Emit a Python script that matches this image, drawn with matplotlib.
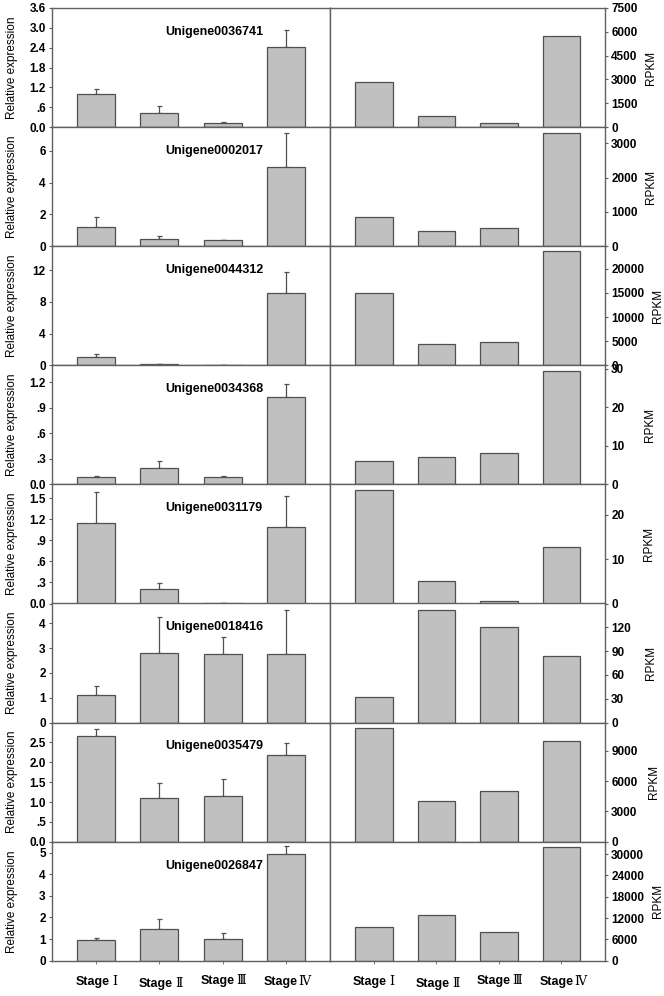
import matplotlib
matplotlib.use("Agg")
import matplotlib.pyplot as plt
from matplotlib.transforms import blended_transform_factory
import numpy as np

plt.rcParams['font.family'] = ['Liberation Sans', 'DejaVu Sans']

genes = ["Unigene0036741", "Unigene0002017", "Unigene0044312", "Unigene0034368",
         "Unigene0031179", "Unigene0018416", "Unigene0035479", "Unigene0026847"]
stage_word = ["Stage", "Stage", "Stage", "Stage"]
stage_num = ["Ⅰ", "Ⅱ", "Ⅲ", "Ⅳ"]

rel_vals = [
    [1.01, 0.43, 0.11, 2.41],
    [1.22, 0.46, 0.36, 4.99],
    [1.10, 0.17, 0.08, 9.07],
    [0.086, 0.19, 0.09, 1.03],
    [1.15, 0.21, 0.01, 1.09],
    [1.10, 2.80, 2.77, 2.77],
    [2.67, 1.10, 1.15, 2.18],
    [0.98, 1.46, 1.02, 4.91],
]
rel_err = [
    [0.14, 0.22, 0.04, 0.53],
    [0.61, 0.21, 0.06, 2.13],
    [0.33, 0.04, 0.02, 2.70],
    [0.012, 0.08, 0.01, 0.15],
    [0.44, 0.08, 0.0, 0.44],
    [0.37, 1.47, 0.67, 1.78],
    [0.18, 0.37, 0.42, 0.31],
    [0.06, 0.47, 0.25, 0.37],
]
rpkm_vals = [
    [2810, 700, 275, 5750],
    [850, 440, 518, 3300],
    [15050, 4320, 4730, 23670],
    [6.2, 7.0, 8.1, 29.4],
    [25.5, 5.0, 0.6, 12.8],
    [32.7, 141.8, 120.8, 84.3],
    [11270, 4040, 5070, 9940],
    [9460, 12870, 8040, 32070],
]

left_ylim = [3.6, 7.5, 15, 1.4, 1.7, 4.8, 3.0, 5.5]
left_ticks = [
    [0, 0.6, 1.2, 1.8, 2.4, 3.0, 3.6],
    [0, 2, 4, 6],
    [0, 4, 8, 12],
    [0, 0.3, 0.6, 0.9, 1.2],
    [0, 0.3, 0.6, 0.9, 1.2, 1.5],
    [0, 1, 2, 3, 4],
    [0, 0.5, 1.0, 1.5, 2.0, 2.5],
    [0, 1, 2, 3, 4, 5],
]
left_ticklabels = [
    ["0.0", ".6", "1.2", "1.8", "2.4", "3.0", "3.6"],
    ["0", "2", "4", "6"],
    ["0", "4", "8", "12"],
    ["0.0", ".3", ".6", ".9", "1.2"],
    ["0.0", ".3", ".6", ".9", "1.2", "1.5"],
    ["0", "1", "2", "3", "4"],
    ["0.0", ".5", "1.0", "1.5", "2.0", "2.5"],
    ["0", "1", "2", "3", "4", "5"],
]
right_ylim = [7500, 3470, 24700, 30.9, 26.8, 150, 11800, 33500]
right_ticks = [
    [0, 1500, 3000, 4500, 6000, 7500],
    [0, 1000, 2000, 3000],
    [0, 5000, 10000, 15000, 20000],
    [0, 10, 20, 30],
    [0, 10, 20],
    [0, 30, 60, 90, 120],
    [0, 3000, 6000, 9000],
    [0, 6000, 12000, 18000, 24000, 30000],
]

W, H = 664, 996
fig = plt.figure(figsize=(W / 100, H / 100), dpi=100)

top_px, row_h = 8, 119.1
lx0, lx1 = 52, 330
rx0, rx1 = 330, 605
bar_fc = "#c0c0c0"
edge = "#505050"
spine_c = "#606060"
x = np.arange(4)
px = 0.72  # points per pixel

# RPKM label left edge (pixels) per row
rpkm_lab_x = [645, 645, 652, 644, 643, 645, 648, 652]

# per-label pixel offsets (word right edge, numeral left edge, vertical centre)
word_dx = [13, 13, 12, 12]
num_dx = [16, 16, 14, 13]
lab_dy = [-21, -23, -20, -21]

for i in range(8):
    bottom = 1 - (top_px + (i + 1) * row_h) / H
    h = row_h / H
    axl = fig.add_axes([lx0 / W, bottom, (lx1 - lx0) / W, h])
    axr = fig.add_axes([rx0 / W, bottom, (rx1 - rx0) / W, h])

    axl.bar(x, rel_vals[i], width=0.6, color=bar_fc, edgecolor=edge, linewidth=0.9, zorder=2)
    axl.errorbar(x, rel_vals[i], yerr=[np.zeros(4), rel_err[i]], fmt='none',
                 ecolor=edge, elinewidth=0.9, capsize=1.8, capthick=0.9, zorder=1)
    axl.set_ylim(0, left_ylim[i])
    axl.set_yticks(left_ticks[i])
    axl.set_yticklabels(left_ticklabels[i], fontsize=8.5, fontweight='bold')
    axl.set_ylabel("Relative expression", fontsize=8.5)
    axl.yaxis.set_label_coords(-0.122, 0.5)
    axl.text(0.583, 0.80, genes[i], transform=axl.transAxes, ha='center', va='center',
             fontsize=9, fontweight='bold')

    axr.bar(x, rpkm_vals[i], width=0.6, color=bar_fc, edgecolor=edge, linewidth=0.9, zorder=2)
    axr.set_ylim(0, right_ylim[i])
    axr.set_yticks(right_ticks[i])
    axr.set_yticklabels([str(t) for t in right_ticks[i]], fontsize=8.5, fontweight='bold')
    axr.yaxis.tick_right()
    axr.yaxis.set_label_position('right')
    axr.set_ylabel("RPKM", fontsize=8.5)
    axr.yaxis.set_label_coords((rpkm_lab_x[i] - rx0) / (rx1 - rx0), 0.5)

    for ax in (axl, axr):
        ax.set_xlim(-0.7, 3.7)
        ax.set_xticks(x)
        ax.set_xticklabels([])
        for s in ax.spines.values():
            s.set_color(spine_c)
            s.set_linewidth(1.0)
        ax.tick_params(axis='y', direction='out', length=2.5, width=0.8, color=spine_c, pad=2)
        ax.tick_params(axis='x', direction='out', length=2, width=0.6, color=spine_c)
        if i == 7:
            tr = blended_transform_factory(ax.transData, ax.transAxes)
            for k in range(4):
                ax.annotate(stage_word[k], xy=(x[k], 0), xycoords=tr,
                            xytext=(word_dx[k] * px, lab_dy[k] * px), textcoords='offset points',
                            ha='right', va='center', fontsize=9, fontweight='bold',
                            annotation_clip=False)
                ax.annotate(stage_num[k], xy=(x[k], 0), xycoords=tr,
                            xytext=(num_dx[k] * px, lab_dy[k] * px), textcoords='offset points',
                            ha='left', va='center', fontsize=9,
                            family=['DejaVu Serif', 'Noto Sans CJK SC'],
                            annotation_clip=False)

fig.savefig("out.png", dpi=100, facecolor='white')
